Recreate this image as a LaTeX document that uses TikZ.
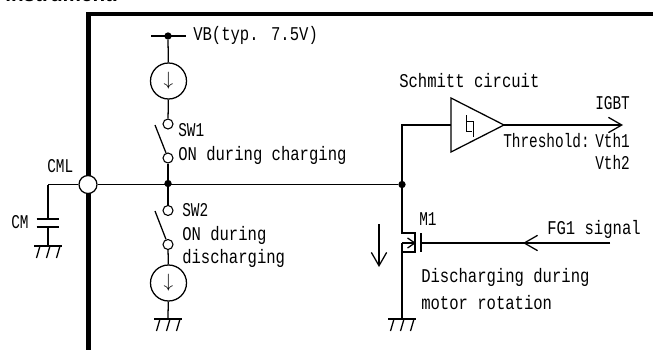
\documentclass[tikz,border=0pt]{standalone}
\usepackage{fontspec}
\setmainfont{Liberation Mono}
\newfontfamily\gothic[FakeStretch=.8]{Liberation Mono}
\newfontfamily\gothicn[FakeStretch=.74]{Liberation Mono}
\newfontfamily\titlefont{Liberation Sans}
\usetikzlibrary{arrows.meta,positioning}
\tikzset{
  wire/.style={line width=.95pt},
  lbl/.style={inner sep=0pt, anchor=west, font=\fontsize{14.6}{16}\gothic},
  lbln/.style={inner sep=0pt, anchor=west, font=\fontsize{14.6}{16}\gothicn},
  open/.style={draw, circle, fill=white, line width=.8pt, inner sep=0pt, minimum size=7.5pt},
  dotn/.style={fill, circle, inner sep=0pt, minimum size=5.5pt},
  src/.style={draw, circle, line width=.95pt, inner sep=0pt, minimum size=27pt, font=\fontsize{14}{14}\selectfont},
  barb/.style={-{Straight Barb[length=10pt,width=11.5pt,line width=.95pt]}},
  barbs/.style={-{Straight Barb[length=5.5pt,width=7.5pt,line width=.95pt]}},
}
\begin{document}
\begin{tikzpicture}[x=.75pt, y=-.75pt]
\useasboundingbox (0,0) rectangle (653,350);
\clip (0,0) rectangle (653,350);
\node[inner sep=0pt, anchor=base west, font=\fontsize{15.5}{16}\titlefont\bfseries] (title) at (5,1.5) {instrument.};

% package outline
\coordinate (pkgtop) at (653,14);
\coordinate (pkgcor) at (88.5,14);
\coordinate (pkgbot) at (88.5,350);
\draw[line width=3.2pt] (pkgtop) -- (pkgcor) -- (pkgbot);

% main nodes
\node[open, minimum size=13.5pt, line width=.95pt] (cml) at (88,184.5) {};
\node[dotn] (jn1) at (168,183.5) {};
\node[dotn] (jn2) at (402,184.5) {};
\node[dotn] (vbdot) at (168,36) {};
\coordinate (vbl) at (151,36);
\coordinate (vbr) at (186,36);
\node[src] (srcup) at (168.5,81) {$\downarrow$};
\node[open] (sw1a) at (168,124) {};
\node[open] (sw1b) at (168,158) {};
\coordinate (sw1t) at (155,125);
\node[open] (sw2a) at (168,210.5) {};
\node[open] (sw2b) at (168,244.5) {};
\coordinate (sw2t) at (155,211);
\node[src] (srcdn) at (168.5,283) {$\downarrow$};
\coordinate (g2) at (168,319);
\coordinate (capt) at (48,184.5);
\coordinate (c1) at (48,219);
\coordinate (c2) at (48,227);
\coordinate (g1) at (48,246);

% schmitt buffer
\coordinate (bufa) at (451,98);
\coordinate (bufb) at (451,152);
\coordinate (bufo) at (504,125);
\coordinate (bufi) at (451,125);
\coordinate (bufc) at (402,125);
\coordinate (igbt) at (623,125);
\draw[wire] (bufa) -- (bufo) -- (bufb) -- cycle;
\draw[line width=.7pt] (466,115) -- (466,131) -- (472,131) (473,137) -- (473,121) -- (466,121);

% transistor M1
\coordinate (d1) at (402,233);
\coordinate (ch1) at (415,233);
\coordinate (ch2) at (415,252);
\coordinate (s1) at (402,252);
\coordinate (mid) at (402,243);
\coordinate (chm) at (416,243);
\coordinate (gt1) at (421,233);
\coordinate (gt2) at (421,252);
\coordinate (gtm) at (421,243);
\coordinate (fg) at (610,243);
\coordinate (fga) at (523,243);
\coordinate (g3) at (402,319);
\coordinate (dnt) at (379,224);
\coordinate (dnb) at (379,267);

\draw[wire] (capt) -- (cml) -- (jn2);
\draw[wire] (capt) -- (c1) (c2) -- (g1);
\draw[wire] ([xshift=-8.6pt]c1) -- ([xshift=8.6pt]c1);
\draw[wire] ([xshift=-8.6pt]c2) -- ([xshift=8.6pt]c2);
\draw[wire] (vbl) -- (vbr);
\draw[wire] (vbdot) -- (srcup);
\draw[wire] (srcup) -- (sw1a);
\draw[wire] (sw1t) -- (sw1b);
\draw[wire] (sw1b) -- (jn1);
\draw[wire] (jn1) -- (sw2a);
\draw[wire] (sw2t) -- (sw2b);
\draw[wire] (sw2b) -- (srcdn);
\draw[wire] (srcdn) -- (g2);
\draw[wire] (jn2) -- (bufc) -- (bufi);
\draw[wire,barb] (bufo) -- (igbt);
\draw[wire] (jn2) -- (d1) -- (ch1) -- (ch2) -- (s1) -- (mid);
\draw[wire] (mid) -- (g3);
\draw[line width=1.2pt] (gt1) -- (gt2);
\draw[wire] (gtm) -- (fg);
\draw[wire,barb] (fg) -- (fga);
\draw[wire,barbs] (mid) -- (chm);
\draw[wire,barb] (dnt) -- (dnb);

\foreach \g in {g1,g2,g3} {
  \draw[wire] ([xshift=-10.5pt]\g) -- ([xshift=10.5pt]\g);
  \foreach \d in {-8,2,12} \draw[wire] ([xshift=.75*\d pt]\g) -- ++(-3.5,12);
}

% labels
\node[lbl] (vb) at (193,35) {VB(typ. 7.5V)};
\node[lbln] (lsw1) at (178,130) {SW1};
\node[lbl] (lon1) at (178,155) {ON during charging};
\node[lbln] (lcml) at (47,166) {CML};
\node[lbln] (lcm) at (11,222) {CM};
\node[lbln] (lsw2) at (182,210) {SW2};
\node[lbl] (lon2) at (182,235) {ON during};
\node[lbl] (ldis) at (182,258) {discharging};
\node[lbl] (sch) at (399,81) {Schmitt circuit};
\node[lbln] (ligbt) at (595,103) {IGBT};
\node[lbln] (thr) at (503,141) {Threshold:};
\node[lbln] (vth1) at (595,141) {Vth1};
\node[lbln] (vth2) at (595,163) {Vth2};
\node[lbln] (m1) at (419,219) {M1};
\node[lbl] (fgl) at (547,229) {FG1 signal};
\node[lbl] (dis1) at (421,277) {Discharging during};
\node[lbl] (dis2) at (421,303) {motor rotation};
\end{tikzpicture}
\end{document}
